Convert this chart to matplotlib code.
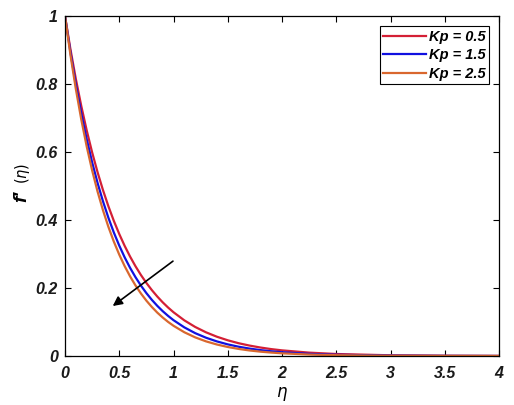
import matplotlib
matplotlib.use("Agg")
import matplotlib.pyplot as plt

eta = [0, 0.05, 0.10, 0.15, 0.20, 0.25, 0.30, 0.35, 0.40, 0.45, 0.50, 0.55, 0.60,
       0.65, 0.70, 0.75, 0.80, 0.85, 0.90, 0.95, 1.00, 1.1, 1.2, 1.3, 1.4, 1.5,
       1.6, 1.7, 1.8, 1.9, 2.0, 2.25, 2.5, 3.0, 3.5, 4.0]
kp05 = [1, 0.9026, 0.8146, 0.7353, 0.6637, 0.5990, 0.5407, 0.4880, 0.4404, 0.3975,
        0.3588, 0.3238, 0.2923, 0.2638, 0.2381, 0.2149, 0.1940, 0.1751, 0.1580,
        0.1426, 0.1287, 0.1048, 0.0854, 0.0696, 0.0567, 0.0462, 0.0376, 0.0307,
        0.0250, 0.0203, 0.0166, 0.0099, 0.0059, 0.0021, 0.0008, 0.0003]
kp15 = [1, 0.8936, 0.7985, 0.7136, 0.6376, 0.5698, 0.5092, 0.4550, 0.4066, 0.3633,
        0.3247, 0.2901, 0.2592, 0.2317, 0.2070, 0.1850, 0.1653, 0.1477, 0.1320,
        0.1180, 0.1054, 0.0842, 0.0672, 0.0537, 0.0429, 0.0342, 0.0273, 0.0218,
        0.0174, 0.0139, 0.0111, 0.0063, 0.0036, 0.0012, 0.0004, 0.0001]
kp25 = [1, 0.8860, 0.7851, 0.6956, 0.6163, 0.5461, 0.4838, 0.4287, 0.3798, 0.3365,
        0.2982, 0.2642, 0.2341, 0.2074, 0.1838, 0.1628, 0.1443, 0.1278, 0.1133,
        0.1003, 0.0889, 0.0698, 0.0548, 0.0430, 0.0338, 0.0265, 0.0208, 0.0163,
        0.0128, 0.0101, 0.0079, 0.0043, 0.0024, 0.0007, 0.0002, 0.0001]
labels = ["Kp = 0.5", "Kp = 1.5", "Kp = 2.5"]
xticks = [0, 0.5, 1, 1.5, 2, 2.5, 3, 3.5, 4]
yticks = [0, 0.2, 0.4, 0.6, 0.8, 1]

fig = plt.figure(figsize=(5.14, 4.05), dpi=100)
ax = fig.add_axes([65/514, 1-356/405, (499-65)/514, (356-16)/405])

colors = ["#d41f35", "#1010e0", "#d9672e"]
for y, c, lab in zip([kp05, kp15, kp25], colors, labels):
    ax.plot(eta, y, color=c, lw=1.6, label=lab)

ax.set_xlim(0, 4)
ax.set_ylim(0, 1)
ax.set_xticks(xticks)
ax.set_yticks(yticks)
ax.set_xticklabels([f"{t:g}" for t in xticks])
ax.set_yticklabels([f"{t:g}" for t in yticks])
for lbl in ax.get_xticklabels() + ax.get_yticklabels():
    lbl.set_fontfamily("Liberation Sans")
    lbl.set_fontweight("bold")
    lbl.set_fontstyle("italic")
    lbl.set_fontsize(11.5)
    lbl.set_color("#1a1a1a")
ax.tick_params(direction="in", top=True, right=True, length=4, width=0.8)
ax.tick_params(axis="x", pad=7)
ax.tick_params(axis="y", pad=5)
for s in ax.spines.values():
    s.set_linewidth(0.9)

ax.annotate("", xy=(0.44, 0.147), xytext=(0.995, 0.279),
            arrowprops=dict(arrowstyle="-|>", color="black", lw=1.2,
                            mutation_scale=14, shrinkA=0, shrinkB=0))

leg = ax.legend(loc="upper right", fancybox=False, framealpha=1, edgecolor="black",
                prop=dict(family="Liberation Sans", weight="bold", style="italic", size=10.5),
                handlelength=2.9, borderpad=0.25, labelspacing=0.3,
                borderaxespad=0.7, handletextpad=0.2)
leg.get_frame().set_linewidth(0.8)

fig.text(282/514, 1-394/405, r"$\eta$", fontsize=12, ha="center", va="center")
fig.text(22/514, 1-196/405, "f\u2032", rotation=90, fontsize=14, ha="center", va="center",
         fontfamily="Liberation Sans", fontweight="bold", fontstyle="italic")
fig.text(22/514, 1-173/405, r"$(\eta)$", rotation=90, fontsize=10.5,
         ha="center", va="center")

fig.savefig("out.png", dpi=100)
